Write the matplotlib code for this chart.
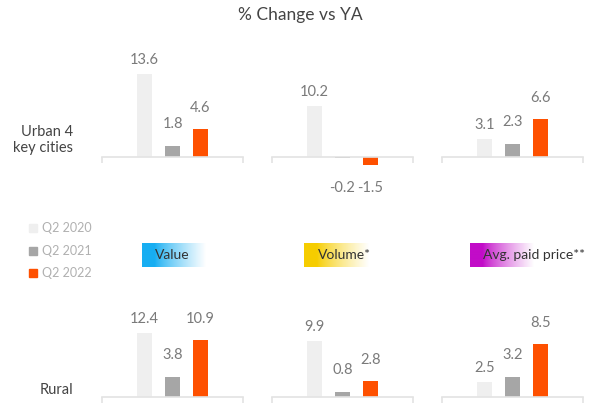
import numpy as np
import matplotlib.pyplot as plt
from matplotlib.colors import LinearSegmentedColormap
from matplotlib.patches import Rectangle

plt.rcParams['font.family'] = ['Lato', 'DejaVu Sans']

title = "% Change vs YA"
series = ["Q2 2020", "Q2 2021", "Q2 2022"]
rows = ["Urban 4\nkey cities", "Rural"]
metrics = ["Value", "Volume*", "Avg. paid price**"]

urban_value = [13.6, 1.8, 4.6]
urban_volume = [10.2, -0.2, -1.5]
urban_price = [3.1, 2.3, 6.6]
rural_value = [12.4, 3.8, 10.9]
rural_volume = [9.9, 0.8, 2.8]
rural_price = [2.5, 3.2, 8.5]

data = [[urban_value, urban_volume, urban_price],
        [rural_value, rural_volume, rural_price]]

bar_colors = ["#efefef", "#a6a6a6", "#fe5000"]
metric_colors = ["#17aef2", "#f6cd00", "#c20cc8"]

W, H = 600, 418
fig = plt.figure(figsize=(W / 100, H / 100), dpi=100)


def px_rect(x0, y0, x1, y1):
    # pixel box (top-left origin) -> figure fraction rect
    return [x0 / W, 1 - y1 / H, (x1 - x0) / W, (y1 - y0) / H]


def px(xp, yp):
    return xp / W, 1 - yp / H


# panel geometry in pixels
col_x = [(102, 243), (272, 413), (442, 583)]
row_y = [(40, 200, 157), (290, 415, 397)]   # top, bottom, baseline
scale = [[6.1, 5.0, 5.7], [5.2, 5.7, 6.2]]  # px per unit
label_off = [14, 22, 21]                    # px above bar (label centre)

x = np.arange(3)
for r in range(2):
    top, bot, base = row_y[r]
    for c in range(3):
        x0, x1 = col_x[c]
        ax = fig.add_axes(px_rect(x0, top, x1, bot))
        s = scale[r][c]
        ax.set_ylim(-(bot - base) / s, (base - top) / s)
        ax.set_xlim(-1.52, 3.52)
        vals = data[r][c]
        ax.bar(x, vals, width=0.54, color=bar_colors, zorder=2)
        for i, v in enumerate(vals):
            if v >= 0:
                ax.annotate(f"{v:.1f}", (x[i], v), xytext=(0, label_off[i] * 0.72),
                            textcoords="offset points", ha="center", va="center",
                            fontsize=10.5, color="#7a7a7a")
            else:
                ax.annotate(f"{v:.1f}", (x[i], 0), xytext=(0, -31 * 0.72),
                            textcoords="offset points", ha="center", va="center",
                            fontsize=10.5, color="#7a7a7a")
        for sp in ["top", "left", "right"]:
            ax.spines[sp].set_visible(False)
        ax.spines["bottom"].set_position(("data", 0))
        ax.spines["bottom"].set_color("#e3e3e3")
        ax.spines["bottom"].set_linewidth(1.2)
        ax.set_xticks([-1.52, 3.52])
        ax.tick_params(axis="x", length=4, color="#e3e3e3", width=1.2, labelbottom=False)
        ax.set_yticks([])
        ax.patch.set_alpha(0)

# title and row labels
fig.text(*px(300, 15), title, ha="center", va="center", fontsize=12.5, color="#444444")
fig.text(*px(73, 140), rows[0], ha="right", va="center", fontsize=10.5,
         color="#444444", linespacing=1.25)
fig.text(*px(73, 390), rows[1], ha="right", va="center", fontsize=10.5, color="#444444")

# legend
leg_y = [228, 251, 273]
for i, name in enumerate(series):
    fig.patches.append(Rectangle(px(29, leg_y[i] + 4), 8 / W, 8 / H,
                                 transform=fig.transFigure, color=bar_colors[i]))
    fig.text(*px(42, leg_y[i]), name, ha="left", va="center", fontsize=9, color="#b0b0b0")

# gradient metric labels
box_x = [142, 304, 470]
text_x = [155, 318, 483]
grad = np.linspace(0, 1, 256).reshape(1, -1)
grad = np.clip((grad - 0.2) / 0.8, 0, 1) ** 0.8
for i, m in enumerate(metrics):
    gax = fig.add_axes(px_rect(box_x[i], 243, box_x[i] + 64, 267))
    cmap = LinearSegmentedColormap.from_list("g", [metric_colors[i], "#ffffff"])
    gax.imshow(grad, aspect="auto", cmap=cmap, vmin=0, vmax=1)
    gax.axis("off")
    fig.text(*px(text_x[i], 255), m, ha="left", va="center", fontsize=10,
             color="#333333", zorder=5)

fig.savefig("out.png", dpi=100)
